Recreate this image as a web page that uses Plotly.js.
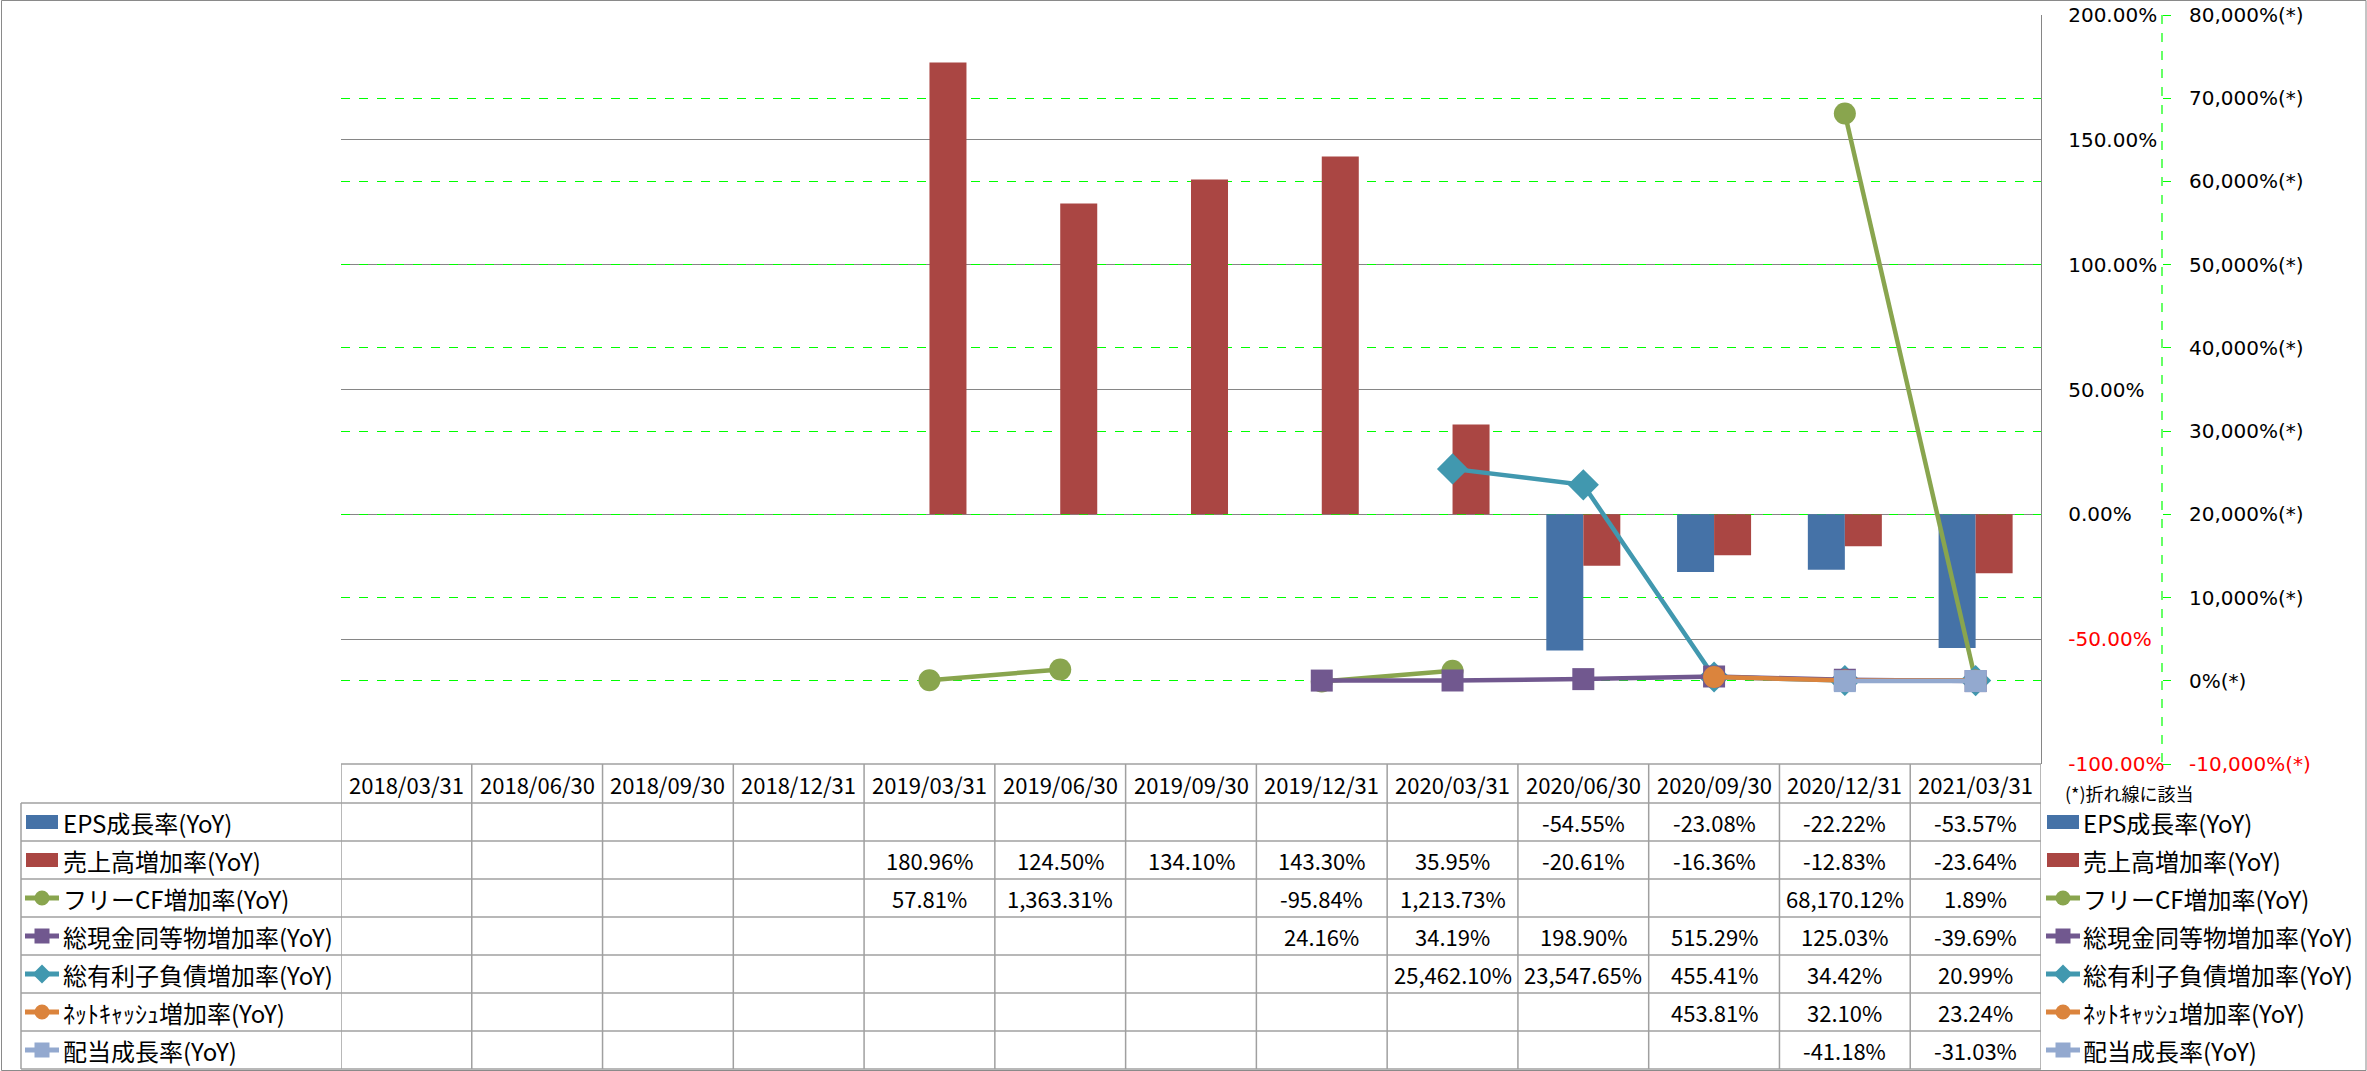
<!DOCTYPE html>
<html>
<head>
<meta charset="utf-8">
<script src="https://cdn.plot.ly/plotly-3.0.1.min.js"></script>
<style>
  html, body { margin: 0; padding: 0; background: #fff; }
  #chart { width: 2367px; height: 1071px; }
</style>
</head>
<body>
<div id="chart"></div>
<script>
// categories (quarter ends)
const dates = ['2018/03/31', '2018/06/30', '2018/09/30', '2018/12/31', '2019/03/31', '2019/06/30',
	'2019/09/30', '2019/12/31', '2020/03/31', '2020/06/30', '2020/09/30', '2020/12/31', '2021/03/31'];

// bar series (left scale, %)
const epsGrowth = [null, null, null, null, null, null, null, null, null, -54.55, -23.08, -22.22, -53.57];
const salesGrowth = [null, null, null, null, 180.96, 124.50, 134.10, 143.30, 35.95, -20.61, -16.36, -12.83, -23.64];

// line series (right scale, %)
const fcfGrowth = [null, null, null, null, 57.81, 1363.31, null, -95.84, 1213.73, null, null, 68170.12, 1.89];
const cashGrowth = [null, null, null, null, null, null, null, 24.16, 34.19, 198.90, 515.29, 125.03, -39.69];
const debtGrowth = [null, null, null, null, null, null, null, null, 25462.10, 23547.65, 455.41, 34.42, 20.99];
const netCashGrowth = [null, null, null, null, null, null, null, null, null, null, 453.81, 32.10, 23.24];
const dividendGrowth = [null, null, null, null, null, null, null, null, null, null, null, -41.18, -31.03];

// axis ticks
const leftTicks = [-100, -50, 0, 50, 100, 150, 200];
const rightTicks = [-10000, 0, 10000, 20000, 30000, 40000, 50000, 60000, 70000, 80000];

const W = 2367, H = 1071;
const px = v => v / W;
const py = v => 1 - v / H;

const JP = '"Noto Sans CJK JP", sans-serif';
const AX = '"DejaVu Sans", sans-serif';
const GRID = '#868686';
const TABLE = '#a0a0a0';
const LIME = '#00ff00';

const fmt = v => v.toLocaleString('en-US', { minimumFractionDigits: 2, maximumFractionDigits: 2 }) + '%';
const red = (s, v) => v < 0 ? `<span style="color:#ff0000">${s}</span>` : s;

/**
 * table rows, in table order
 */
const rows = [
	{ name: 'EPS成長率(YoY)', y: epsGrowth, color: '#4572A7', kind: 'bar' },
	{ name: '売上高増加率(YoY)', y: salesGrowth, color: '#AA4643', kind: 'bar' },
	{ name: 'フリーCF増加率(YoY)', y: fcfGrowth, color: '#89A54E', kind: 'line', symbol: 'circle' },
	{ name: '総現金同等物増加率(YoY)', y: cashGrowth, color: '#71588F', kind: 'line', symbol: 'square' },
	{ name: '総有利子負債増加率(YoY)', y: debtGrowth, color: '#4198AF', kind: 'line', symbol: 'diamond' },
	{ name: 'ﾈｯﾄｷｬｯｼｭ増加率(YoY)', y: netCashGrowth, color: '#DB843D', kind: 'line', symbol: 'circle' },
	{ name: '配当成長率(YoY)', y: dividendGrowth, color: '#93A9CF', kind: 'line', symbol: 'square' },
];

const markerSize = { circle: 22, square: 22, diamond: 24 };

/**
 * Data traces: bars first, then lines on the secondary axis
 * line draw order: green, teal, purple, orange, light blue
 */
const data = [];
rows.filter(r => r.kind === 'bar').forEach(r => {
	data.push({
		type: 'bar', x: dates, y: r.y, name: r.name,
		marker: { color: r.color }, yaxis: 'y', showlegend: false,
	});
});
[2, 4, 3, 5, 6].forEach(i => {
	const r = rows[i];
	data.push({
		type: 'scatter', mode: 'lines+markers', x: dates, y: r.y, name: r.name,
		yaxis: 'y2', connectgaps: false, showlegend: false,
		line: { color: r.color, width: 4.5 },
		marker: { color: r.color, symbol: r.symbol, size: markerSize[r.symbol] },
	});
});

/**
 * Table: header, cells, row labels and icons
 */
const headTop = 764, rowTop = 803, rowH = 38;
const rowMid = i => rowTop + rowH * i + rowH / 2;
const annotations = [];
const shapes = [];
const cellFont = { family: JP, size: 22, color: '#000' };
const labelFont = { family: JP, size: 24, color: '#000' };

dates.forEach(d => {
	annotations.push({ x: d, xref: 'x', y: py((headTop + rowTop) / 2), yref: 'paper', yanchor: 'middle',
		text: d, showarrow: false, font: cellFont });
});

rows.forEach((r, i) => {
	r.y.forEach((v, j) => {
		if ( v === null ) return;
		annotations.push({ x: dates[j], xref: 'x', xanchor: 'center', y: py(rowMid(i)), yref: 'paper', yanchor: 'middle',
			text: fmt(v), showarrow: false, font: cellFont });
	});
	// row label + right-hand legend
	[ [61, 42], [2081, 2063] ].forEach(([tx, cx]) => {
		annotations.push({ x: px(tx), xref: 'paper', xanchor: 'left', y: py(rowMid(i)), yref: 'paper', yanchor: 'middle',
			text: r.name, showarrow: false, font: labelFont });
		const cy = rowMid(i);
		if ( r.kind === 'bar' ){
			shapes.push({ type: 'rect', xref: 'paper', yref: 'paper',
				x0: px(cx - 16), x1: px(cx + 16), y0: py(cy - 7), y1: py(cy + 7),
				fillcolor: r.color, line: { width: 0 } });
		} else {
			shapes.push({ type: 'line', xref: 'paper', yref: 'paper',
				x0: px(cx - 17), x1: px(cx + 17), y0: py(cy), y1: py(cy),
				line: { color: r.color, width: 5 } });
			const s = 7.5;
			if ( r.symbol === 'circle' ){
				shapes.push({ type: 'circle', xref: 'paper', yref: 'paper',
					x0: px(cx - s), x1: px(cx + s), y0: py(cy - s), y1: py(cy + s),
					fillcolor: r.color, line: { width: 0 } });
			} else if ( r.symbol === 'square' ){
				shapes.push({ type: 'rect', xref: 'paper', yref: 'paper',
					x0: px(cx - s), x1: px(cx + s), y0: py(cy - s), y1: py(cy + s),
					fillcolor: r.color, line: { width: 0 } });
			} else {
				const d = 9.5;
				shapes.push({ type: 'path', xref: 'paper', yref: 'paper',
					path: `M ${px(cx - d)},${py(cy)} L ${px(cx)},${py(cy - d)} L ${px(cx + d)},${py(cy)} L ${px(cx)},${py(cy + d)} Z`,
					fillcolor: r.color, line: { width: 0 } });
			}
		}
	});
});

annotations.push({ x: px(2063), xref: 'paper', xanchor: 'left', y: py(793), yref: 'paper', yanchor: 'middle',
	text: '(*)折れ線に該当', showarrow: false, font: { family: JP, size: 18, color: '#000' } });

// table grid
const tableBottom = rowTop + rowH * rows.length;
shapes.push({ type: 'line', xref: 'x', yref: 'paper', x0: -0.5, x1: dates.length - 0.5,
	y0: py(headTop), y1: py(headTop), line: { color: TABLE, width: 1.5 } });
for ( let i = 0; i <= rows.length; i++ ){
	shapes.push({ type: 'line', xref: 'paper', yref: 'paper', x0: px(21), x1: px(2041),
		y0: py(rowTop + rowH * i), y1: py(rowTop + rowH * i), line: { color: TABLE, width: 1.5 } });
}
for ( let i = 0; i <= dates.length; i++ ){
	shapes.push({ type: 'line', xref: 'x', yref: 'paper', x0: i - 0.5, x1: i - 0.5,
		y0: py(headTop), y1: py(tableBottom), line: { color: TABLE, width: 1.5 } });
}
shapes.push({ type: 'line', xref: 'paper', yref: 'paper', x0: px(21), x1: px(21),
	y0: py(rowTop), y1: py(tableBottom), line: { color: TABLE, width: 1.5 } });

// secondary axis line (dashed lime)
shapes.push({ type: 'line', xref: 'paper', yref: 'paper', x0: px(2162), x1: px(2162),
	y0: py(15), y1: py(764), line: { color: LIME, width: 1.2, dash: 'dash' } });

// outer frame
shapes.push({ type: 'rect', xref: 'paper', yref: 'paper', x0: px(1.5), x1: px(2366), y0: py(0.5), y1: py(1070.5),
	line: { color: '#8a8a8a', width: 1 } });

const layout = {
	width: W,
	height: H,
	margin: { l: 0, r: 0, t: 0, b: 0, pad: 0 },
	paper_bgcolor: '#fff',
	plot_bgcolor: '#fff',
	showlegend: false,
	barmode: 'group',
	bargap: 0.434,
	bargroupgap: 0,
	xaxis: {
		type: 'category',
		domain: [px(341), px(2041)],
		range: [-0.5, dates.length - 0.5],
		showticklabels: false, showgrid: false, zeroline: false, showline: false, ticks: '',
	},
	yaxis: {
		domain: [py(764), py(15)],
		range: [-100, 200],
		side: 'right',
		tickvals: leftTicks,
		ticktext: leftTicks.map(v => red(fmt(v), v)),
		tickfont: { family: AX, size: 20, color: '#000' },
		ticks: '',
		ticklabelstandoff: 22,
		showgrid: true, gridcolor: GRID, gridwidth: 1.2,
		zeroline: false,
		showline: true, linecolor: GRID, linewidth: 1.2,
	},
	yaxis2: {
		overlaying: 'y',
		anchor: 'free',
		position: px(2162),
		side: 'right',
		range: [-10000, 80000],
		tickvals: rightTicks,
		ticktext: rightTicks.map(v => red(v.toLocaleString('en-US') + '%(*)', v)),
		tickfont: { family: AX, size: 20, color: '#000' },
		ticks: 'outside', ticklen: 8, tickcolor: LIME, tickwidth: 1,
		ticklabelstandoff: 14,
		showgrid: true, gridcolor: LIME, griddash: 'dash', gridwidth: 1,
		zeroline: false, showline: false,
	},
	shapes,
	annotations,
};

Plotly.newPlot('chart', data, layout, { staticPlot: true, displayModeBar: false });
</script>
</body>
</html>
